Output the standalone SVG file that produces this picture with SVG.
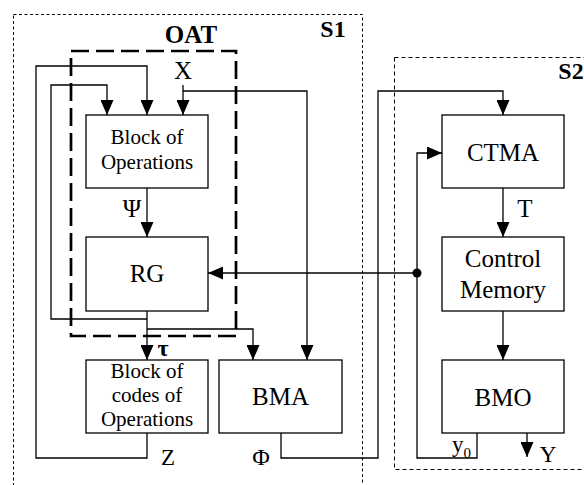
<svg xmlns="http://www.w3.org/2000/svg" width="584" height="485" viewBox="0 0 584 485">
<style>
  .box{fill:#fff;stroke:#000;stroke-width:1.3}
  .t{font-family:"Liberation Serif","Times New Roman",serif;fill:#000;text-anchor:middle}
  .b{font-weight:bold}
  .c{fill:none;stroke:#000;stroke-width:1.3}
</style>
<defs>
  <marker id="arr" markerUnits="userSpaceOnUse" markerWidth="15" markerHeight="13" refX="15" refY="6.5" orient="auto">
    <path d="M0,0 L15,6.5 L0,13 z" fill="#000"/>
  </marker>
</defs>
<rect width="584" height="485" fill="#fff"/>
<g id="S1">
  <rect x="13.5" y="14.5" width="349" height="500" fill="none" stroke="#000" stroke-width="1" stroke-dasharray="3 2.5"/>
  <text class="t b" x="333" y="37" font-size="24">S1</text>
</g>
<g id="S2">
  <rect x="394.5" y="57.5" width="220" height="412" fill="none" stroke="#000" stroke-width="1" stroke-dasharray="4 3"/>
  <text class="t b" x="571" y="79" font-size="24">S2</text>
</g>
<g id="OAT">
  <rect x="71" y="51" width="165" height="285" fill="none" stroke="#000" stroke-width="2.7" stroke-dasharray="18 7"/>
  <text class="t b" x="191" y="43" font-size="25">OAT</text>
</g>
<g id="connectors">
  <path class="c" d="M147,188 V237" marker-end="url(#arr)"/>
  <path class="c" d="M147,433 V458 H36 V66 H147 V115" marker-end="url(#arr)"/>
  <path class="c" d="M147,311 V360" marker-end="url(#arr)"/>
  <path class="c" d="M147,319 H51 V85 H107 V115" marker-end="url(#arr)"/>
  <path class="c" d="M147,329 H253 V360" marker-end="url(#arr)"/>
  <path class="c" d="M183,85 V115" marker-end="url(#arr)"/>
  <path class="c" d="M183,91 H307 V360" marker-end="url(#arr)"/>
  <path class="c" d="M281,433 V458 H378 V91 H503 V115" marker-end="url(#arr)"/>
  <path class="c" d="M417,273 H208" marker-end="url(#arr)"/>
  <circle cx="417" cy="273" r="4.5" fill="#000"/>
  <path class="c" d="M477,433 V458 H417 V153 H442" marker-end="url(#arr)"/>
  <path class="c" d="M503,188 V237" marker-end="url(#arr)"/>
  <path class="c" d="M503,311 V360" marker-end="url(#arr)"/>
  <path class="c" d="M527,433 V457" marker-end="url(#arr)"/>
</g>
<g id="labels">
  <text class="t" x="183" y="79" font-size="25">X</text>
  <text class="t" x="132" y="217" font-size="25">Ψ</text>
  <text class="t b" x="163" y="356" font-size="24">τ</text>
  <text class="t" x="168" y="465" font-size="23">Z</text>
  <text class="t" x="261" y="465" font-size="24">Φ</text>
  <text class="t" x="525" y="217" font-size="25">T</text>
  <text class="t" x="548" y="462" font-size="23">Y</text>
  <text class="t" x="452" y="452" font-size="23" style="text-anchor:start">y<tspan font-size="15" dy="6">0</tspan></text>
</g>
<g id="blockOps">
  <rect class="box" x="86" y="115" width="122" height="73"/>
  <text class="t" x="147" y="144" font-size="21">Block of</text>
  <text class="t" x="147" y="169" font-size="21">Operations</text>
</g>
<g id="RG">
  <rect class="box" x="86" y="237" width="122" height="74"/>
  <text class="t" x="147" y="282" font-size="25">RG</text>
</g>
<g id="blockCodes">
  <rect class="box" x="86" y="360" width="122" height="73"/>
  <text class="t" x="147" y="378" font-size="21">Block of</text>
  <text class="t" x="147" y="402" font-size="21">codes of</text>
  <text class="t" x="147" y="426" font-size="21">Operations</text>
</g>
<g id="BMA">
  <rect class="box" x="219" y="360" width="123" height="73"/>
  <text class="t" x="280.5" y="405" font-size="25">BMA</text>
</g>
<g id="CTMA">
  <rect class="box" x="442" y="115" width="122" height="73"/>
  <text class="t" x="503" y="161" font-size="25">CTMA</text>
</g>
<g id="ControlMemory">
  <rect class="box" x="442" y="237" width="122" height="74"/>
  <text class="t" x="503" y="267" font-size="25">Control</text>
  <text class="t" x="503" y="298" font-size="25">Memory</text>
</g>
<g id="BMO">
  <rect class="box" x="442" y="360" width="122" height="73"/>
  <text class="t" x="503" y="406" font-size="25">BMO</text>
</g>
</svg>
